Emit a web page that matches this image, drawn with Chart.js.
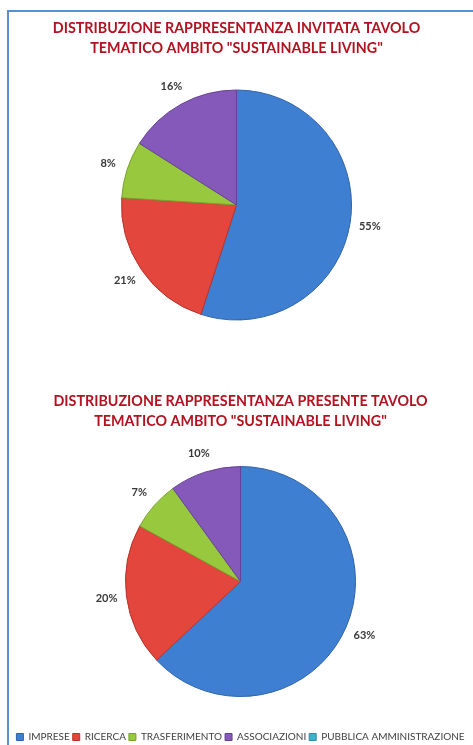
<!DOCTYPE html>
<html>
<head>
<meta charset="utf-8">
<script src="https://cdn.jsdelivr.net/npm/chart.js@4/dist/chart.umd.min.js"></script>
<style>
  html, body { margin: 0; padding: 0; width: 473px; height: 745px; overflow: hidden; background: #ffffff; }
  #frame { position: absolute; left: 7px; top: 10px; width: 480px; height: 760px;
           border-left: 2px solid #5b8fd0; border-top: 2px solid #5b8fd0; }
  .wrap { position: absolute; }
  #w1 { left: 0px; top: 0px; width: 473px; height: 350px; }
  #w2 { left: 4px; top: 370px; width: 473px; height: 382px; }
</style>
</head>
<body>
<div id="frame"></div>
<div class="wrap" id="w1"><canvas id="c1"></canvas></div>
<div class="wrap" id="w2"><canvas id="c2"></canvas></div>
<script>
// ---- data ----
const categories = ['IMPRESE', 'RICERCA', 'TRASFERIMENTO', 'ASSOCIAZIONI', 'PUBBLICA AMMINISTRAZIONE'];
const invitataValues = [55, 21, 8, 16, 0];
const presenteValues = [63, 20, 7, 10, 0];
const title1 = ['DISTRIBUZIONE RAPPRESENTANZA INVITATA TAVOLO', 'TEMATICO AMBITO "SUSTAINABLE LIVING"'];
const title2 = ['DISTRIBUZIONE RAPPRESENTANZA PRESENTE TAVOLO', 'TEMATICO AMBITO "SUSTAINABLE LIVING"'];

// ---- styles ----
const sliceColors = ['#3f7fd2', '#e3463c', '#98c83e', '#8559b9', '#40b0cc'];
const sliceBorders = ['#2e62a8', '#b8332b', '#78a22c', '#664293', '#2e8ca5'];

const outsideLabels = {
  id: 'outsideLabels',
  afterDatasetsDraw(chart) {
    const ctx = chart.ctx;
    const meta = chart.getDatasetMeta(0);
    const data = chart.data.datasets[0].data;
    ctx.save();
    ctx.font = 'bold 11px Lato, "Open Sans", sans-serif';
    ctx.fillStyle = '#383838';
    ctx.textAlign = 'center';
    ctx.textBaseline = 'middle';
    meta.data.forEach((arc, i) => {
      if (!data[i]) return;
      const p = arc.getProps(['x', 'y', 'startAngle', 'endAngle', 'outerRadius'], true);
      const mid = (p.startAngle + p.endAngle) / 2;
      const r = p.outerRadius + 20;
      ctx.fillText(data[i] + '%', p.x + Math.cos(mid) * r, p.y + Math.sin(mid) * r);
    });
    ctx.restore();
  }
};

function makeChart(id, values, titleLines, titlePad, showLegend) {
  return new Chart(document.getElementById(id), {
    type: 'pie',
    data: {
      labels: categories,
      datasets: [{
        data: values,
        backgroundColor: sliceColors,
        borderColor: sliceBorders,
        borderWidth: 1,
        hoverOffset: 0
      }]
    },
    options: {
      responsive: true,
      maintainAspectRatio: false,
      animation: false,
      radius: 115,
      layout: { padding: 0 },
      plugins: {
        title: {
          display: true,
          text: titleLines,
          color: '#b31220',
          font: { family: 'Lato, "Open Sans", sans-serif', size: 14.3, weight: 'bold', lineHeight: 20 / 14.3 },
          padding: titlePad
        },
        legend: {
          display: showLegend,
          position: 'bottom',
          labels: {
            boxWidth: 7,
            boxHeight: 7,
            padding: 3,
            color: '#404040',
            font: { family: 'Lato, "Open Sans", sans-serif', size: 10 }
          }
        },
        tooltip: { enabled: false }
      }
    },
    plugins: [outsideLabels]
  });
}

makeChart('c1', invitataValues, title1, { top: 18, bottom: 2 }, false);
makeChart('c2', presenteValues, title2, { top: 21.7, bottom: 2.3 }, true);
</script>
</body>
</html>
